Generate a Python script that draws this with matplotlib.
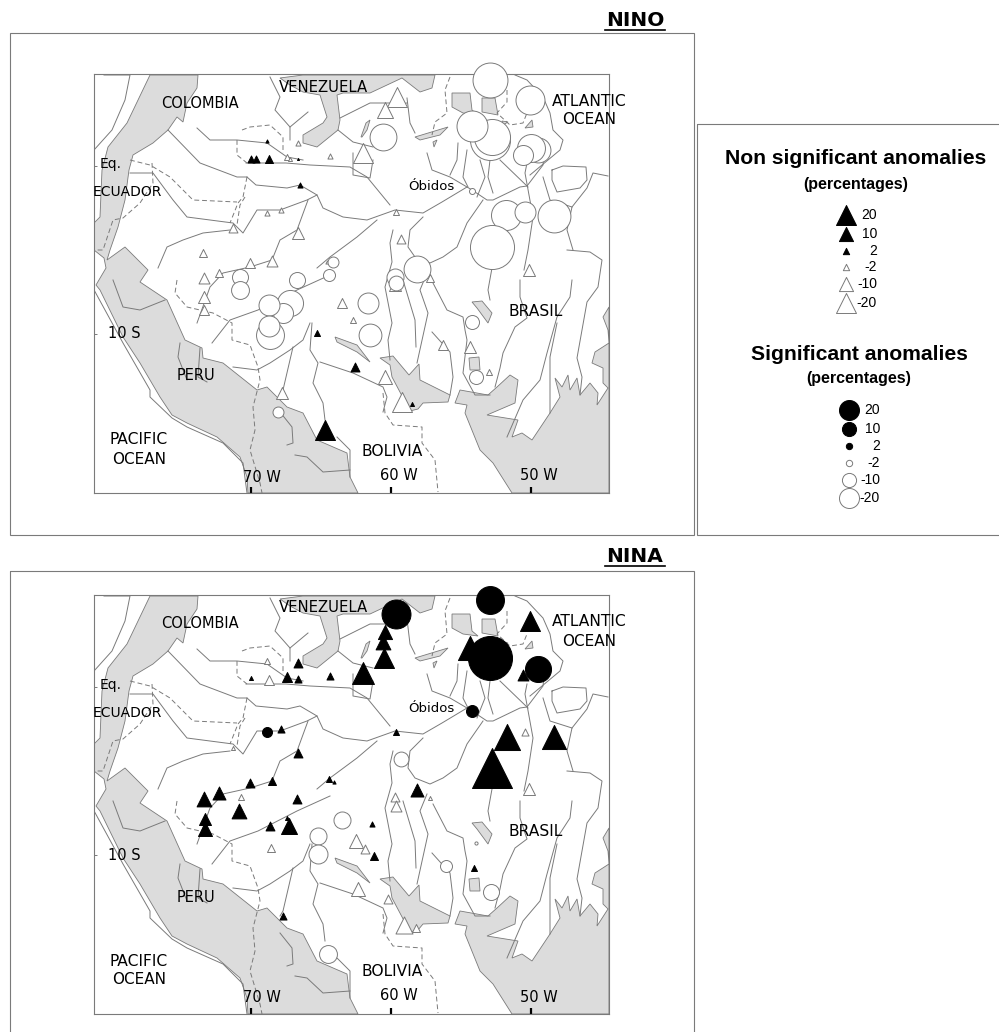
#!/usr/bin/env python3
"""Rainfall anomalies over the Amazon basin for Nino and Nina years, two maps and a key."""

import numpy as np
import matplotlib
matplotlib.use('Agg')
import matplotlib.pyplot as plt
from matplotlib.patches import Polygon, Rectangle

# --- stations: longitude, latitude, anomaly in percent ---
nino_tri_lon = [-70.02, -69.66, -68.69, -68.84, -66.5, -66.64, -65.31, -62.57, -64.71, -58.52,
                -66.66, -67.45, -67.21, -64.36, -61.98, -59.59, -60.43, -68.88, -67.88, -71.26,
                -66.66, -73.45, -70.07, -68.52, -72.26, -73.34, -64.55, -73.34, -73.34, -63.52,
                -62.74, -67.81, -60.43, -56.31, -54.36, -52.98, -59.24, -59.64, -59.31, -50.14,
                -57.21, -59.71]
nino_tri_lat = [0.43, 0.42, 0.40, 1.47, -1.11, 0.43, -9.96, -11.95, -15.71, -14.18,
                1.39, 0.54, 0.43, 0.58, 0.79, 4.13, 3.33, -2.82, -2.62, -3.71,
                -3.97, -5.20, -5.79, -5.65, -6.39, -6.68, -5.70, -7.78, -8.57, -8.14,
                -9.17, -13.53, -12.54, -10.65, -10.76, -12.24, -14.03, -2.72, -4.36, -6.19,
                -6.68, -7.08]
nino_tri_val = [2.5, 2.5, 3.2, 0.5, 1.3, 0.2, 1.8, 4, 20, 0.8,
                -1.3, -1.8, -0.8, -1.3, -20, -20, -12.8, -1.3, -1.3, -4,
                -7.2, -3.2, -5, -6, -3.2, -6, -0.5, -7.2, -5, -5,
                -1.8, -7.2, -9.8, -5, -7.2, -1.8, -20, -1.8, -4, -7.2,
                -3.2, -7.2]

nino_circ_lon = [-52.93, -50.07, -52.93, -52.81, -54.24, -49.5, -50.02, -50.55, -60.55, -54.19,
                 -51.81, -50.43, -48.36, -52.81, -58.16, -59.71, -59.64, -70.79, -64.12, -64.41,
                 -66.74, -70.79, -67.21, -67.71, -68.71, -68.64, -68.69, -61.64, -61.5, -68.05,
                 -54.24, -53.95]
nino_circ_lat = [5.12, 3.93, 1.55, 1.74, 2.40, 0.95, 1.05, 0.65, 1.74, -1.47,
                 -2.92, -2.72, -2.98, -4.80, -6.13, -6.59, -6.96, -6.59, -5.70, -6.49,
                 -6.79, -7.38, -8.17, -8.75, -8.27, -10.06, -9.52, -8.17, -10.06, -14.63,
                 -9.30, -12.58]
nino_circ_val = [-61, -42, -80, -65, -48, -31, -39, -20, -36, -1.8,
                 -45, -22, -54, -97, -36, -14.5, -11, -12.8, -6, -7.2,
                 -12.8, -16, -34, -20, -22, -39, -22, -22, -26, -6,
                 -9.8, -9.8]

nina_tri_lon = [-70.02, -67.41, -66.62, -66.62, -64.36, -61.98, -60.5, -60.59, -60.43, -67.88,
                -66.66, -70.07, -68.52, -72.26, -73.34, -70.86, -64.41, -64.07, -66.74, -67.45,
                -73.32, -73.27, -68.61, -67.29, -61.36, -61.23, -54.07, -67.68, -50.07, -54.36,
                -50.55, -51.74, -48.34, -52.81, -59.64, -58.16,
                -68.84, -68.69, -70.74, -71.26, -50.43, -50.14, -59.71, -59.64, -57.21, -68.56,
                -62.53, -61.84, -62.33, -60.21, -59.04, -58.25]
nina_tri_lat = [0.52, 0.58, 1.45, 0.49, 0.65, 0.83, 1.71, 2.70, 3.29, -2.52,
                -3.91, -5.70, -5.58, -6.29, -6.67, -7.36, -5.49, -5.64, -6.68, -7.80,
                -7.83, -8.44, -8.27, -8.27, -8.18, -10.03, -10.77, -13.63, 3.95, 2.30,
                0.71, -2.96, -2.99, -4.84, -2.66, -6.13,
                1.55, 0.42, -6.53, -3.65, -2.70, -6.07, -6.54, -7.08, -6.63, -9.56,
                -9.15, -9.66, -12.0, -12.62, -14.14, -14.35]
nina_tri_val = [0.8, 5, 4, 2.5, 2.5, 24, 20, 11, 10, 2.5,
                4, 4, 3.2, 8.5, 11, 11, 1.8, 0.5, 4, 0.8,
                7.2, 9.8, 4, 12.8, 1.3, 3.2, 1.8, 2.5, 20, 29,
                6, 34, 29, 80, 1.8, 8.5,
                -1.8, -5, -1.8, -0.8, -2.5, -7.2, -4, -6, -0.8, -3.2,
                -9.8, -4, -9.8, -4, -14.5, -3.2]

nina_circ_lon = [-59.31, -65.19, -65.19, -63.5, -64.48, -56.06, -52.86, -53.96,
                 -68.88, -52.93, -59.64, -52.93, -49.52, -54.19]
nina_circ_lat = [-4.29, -8.85, -9.93, -7.89, -15.87, -10.64, -12.2, -9.29,
                 -2.70, 5.18, 4.33, 1.74, 1.05, -1.41]
nina_circ_val = [-11, -14.5, -18, -14.5, -16, -7.2, -12.8, -0.5,
                 5, 39, 42, 97, 34, 7.2]

legend_values = [20, 10, 2, -2, -10, -20]
legend_labels = ['20', '10', '2', '-2', '-10', '-20']
lon_ticks = [-70, -60, -50]
lat_ticks = [0, -10]

# --- base map in image pixels of the upper map ---
andes = [(150, 75), (198, 75), (197, 88), (187, 103), (183, 122), (177, 117), (168, 130), (153, 143),
         (133, 155), (129, 170), (125, 200), (118, 227), (110, 250), (107, 260), (125, 247), (148, 270),
         (140, 282), (167, 300), (185, 340), (202, 348), (203, 358), (223, 363), (257, 390), (267, 387),
         (287, 407), (303, 413), (317, 440), (347, 453), (350, 477), (358, 493), (248, 493), (247, 477),
         (240, 457), (217, 437), (187, 423), (172, 415), (160, 397), (140, 363), (123, 337), (100, 290),
         (96, 285), (106, 268), (104, 258), (94, 250), (94, 223), (100, 217), (102, 170), (108, 147),
         (127, 123)]
brazil_shield = [(455, 403), (460, 390), (488, 395), (497, 387), (510, 375), (518, 380), (515, 403),
                 (487, 415), (518, 420), (512, 437), (522, 433), (532, 440), (550, 413), (560, 397),
                 (555, 378), (562, 387), (568, 375), (570, 390), (577, 378), (580, 395), (590, 383),
                 (598, 393), (597, 405), (608, 388), (603, 383), (603, 368), (592, 363), (595, 352),
                 (609, 343), (609, 493), (512, 493), (493, 463), (480, 450), (465, 413), (467, 405)]
guiana_west = [(452, 93), (470, 93), (472, 110), (478, 115), (463, 113), (452, 107)]
guiana_east = [(482, 98), (495, 98), (498, 115), (482, 112)]
venezuela = [(280, 78), (303, 75), (435, 75), (432, 88), (420, 92), (402, 78), (370, 93), (343, 93),
             (337, 95), (340, 120), (338, 130), (317, 147), (303, 143), (303, 135), (323, 123),
             (327, 117), (320, 95), (303, 92), (290, 85)]
bolivia = [(380, 358), (393, 356), (409, 375), (419, 364), (420, 380), (450, 395), (448, 402), (423, 403),
           (418, 409), (410, 411), (392, 377), (390, 365)]
small_patches = [
    [(361, 137), (366, 123), (370, 120), (367, 130), (362, 137)],
    [(415, 137), (448, 127), (440, 135), (420, 140)],
    [(433, 142), (437, 140), (434, 147)],
    [(502, 121), (508, 122), (503, 125)],
    [(525, 128), (532, 120), (533, 127)],
    [(335, 337), (357, 345), (370, 362), (357, 352), (337, 342)],
    [(472, 302), (482, 301), (492, 313), (488, 323), (477, 308)],
    [(469, 358), (479, 357), (480, 370), (470, 370)],
    [(609, 307), (603, 317), (608, 330), (609, 343)],
]
rivers = [
    [(247, 177), (256, 185), (287, 188), (300, 185), (317, 195), (323, 208), (343, 217), (367, 220),
     (395, 210), (423, 213), (442, 202), (467, 187), (472, 190), (487, 200), (493, 200), (520, 187),
     (527, 186), (543, 165), (545, 148)],
    [(246, 163), (286, 163), (310, 165), (350, 167), (367, 177), (390, 205)],
    [(168, 130), (200, 163), (237, 177), (247, 177)],
    [(197, 128), (210, 140), (237, 140), (267, 143), (287, 157), (303, 160)],
    [(130, 173), (153, 173), (173, 200), (187, 217), (233, 223), (243, 233), (257, 210), (280, 210),
     (307, 200), (317, 195)],
    [(158, 268), (167, 247), (183, 240), (203, 233), (230, 230)],
    [(308, 200), (297, 230), (280, 240), (272, 260), (250, 267), (223, 273), (210, 287), (197, 323)],
    [(377, 220), (357, 237), (330, 257), (317, 268)],
    [(330, 275), (297, 290), (258, 310), (230, 320), (212, 343)],
    [(310, 323), (303, 340), (290, 350), (270, 363), (257, 370), (233, 367)],
    [(293, 347), (283, 390), (280, 395)],
    [(280, 412), (292, 427), (293, 443), (287, 445)],
    [(295, 455), (307, 457), (323, 472), (350, 470)],
    [(312, 323), (310, 350), (318, 363), (313, 383), (323, 403), (325, 420)],
    [(320, 362), (353, 373), (383, 387), (387, 397), (383, 412)],
    [(337, 437), (350, 450), (350, 477)],
    [(393, 230), (390, 243), (392, 262), (385, 287), (392, 323), (388, 340), (390, 360)],
    [(403, 280), (415, 320), (416, 347)],
    [(423, 217), (410, 230), (408, 247), (415, 257), (430, 263), (443, 257), (457, 247), (467, 223),
     (483, 200)],
    [(427, 273), (420, 290), (428, 313), (417, 363)],
    [(432, 332), (450, 352), (453, 377), (450, 395)],
    [(433, 283), (447, 310), (463, 317), (465, 330), (467, 340), (463, 373), (475, 395), (490, 395)],
    [(492, 268), (488, 290), (490, 300)],
    [(520, 280), (520, 297), (527, 318), (515, 327), (503, 353), (500, 368), (495, 387)],
    [(572, 280), (570, 297), (557, 317), (547, 353), (540, 380), (523, 400), (507, 437)],
    [(557, 323), (550, 357), (550, 413)],
    [(567, 250), (590, 252), (602, 260), (598, 287), (587, 302), (577, 358), (582, 377), (580, 395)],
    [(490, 160), (488, 177), (493, 193)],
    [(480, 160), (485, 177), (477, 197)],
    [(467, 150), (463, 177), (468, 187)],
    [(458, 143), (457, 160), (450, 175)],
    [(427, 153), (432, 170), (450, 177), (467, 187)],
    [(500, 160), (528, 187)],
    [(527, 163), (525, 173), (533, 217), (528, 250), (524, 270)],
    [(543, 177), (550, 200), (572, 207), (567, 230), (573, 250)],
    [(572, 207), (587, 188), (593, 173), (608, 176)],
    [(552, 170), (563, 166), (586, 167), (587, 180), (580, 188), (557, 192), (552, 180), (552, 170)],
    [(515, 75), (527, 80), (543, 97), (550, 113), (553, 130), (563, 140), (560, 150), (530, 175)],
    # outer coast line, a thin white strip off the grey
    [(93, 288), (123, 343), (150, 390), (150, 397), (172, 418), (187, 427), (223, 443), (243, 463),
     (247, 493)],
    [(104, 75), (130, 75), (125, 100), (112, 130), (94, 150)],
    [(270, 77), (280, 97), (275, 110), (290, 127), (290, 140)],
    [(308, 112), (290, 127)],
    [(340, 118), (370, 103), (390, 103)],
    [(338, 130), (353, 142), (373, 147)],
    [(353, 153), (353, 175), (370, 178), (373, 160)],
    [(407, 98), (410, 123), (415, 133)],
    [(407, 103), (392, 105)],
    # rivers inside the Andes
    [(180, 343), (178, 357), (187, 380)],
    [(200, 348), (198, 377), (207, 382)],
    [(113, 280), (123, 307), (140, 310), (165, 300)],
]
borders = [
    [(450, 77), (445, 90), (447, 113), (435, 122), (432, 135)],
    [(507, 90), (507, 102), (497, 113), (510, 125), (523, 123), (527, 113)],
    [(247, 177), (243, 197), (238, 203), (230, 223)],
    [(245, 197), (240, 205), (237, 225)],
    [(242, 130), (250, 127), (270, 125), (283, 137), (283, 153)],
    [(237, 140), (237, 155), (247, 163)],
    [(130, 160), (150, 165), (170, 177), (193, 200), (237, 202)],
    [(152, 163), (153, 183), (140, 203), (123, 218), (113, 220), (103, 250), (95, 250)],
    [(177, 280), (175, 293), (187, 307), (213, 313), (232, 323), (232, 340), (250, 345), (258, 367),
     (260, 380), (253, 407), (255, 430), (250, 450), (260, 483), (262, 493)],
    [(383, 393), (385, 413), (393, 425), (422, 427), (422, 443), (435, 460), (438, 492)],
]

# --- place names: image pixel centre in the upper map, font size ---
map_labels = [('COLOMBIA', 200, 103, 10.5), ('VENEZUELA', 323, 87, 10.7), ('Eq.', 111, 164, 10),
              ('ECUADOR', 127, 192, 10), ('Óbidos', 431, 187, 9.5), ('ATLANTIC', 589, 101, 11.2),
              ('OCEAN', 589, 120, 11), ('BRASIL', 536, 311, 11.2), ('PERU', 196, 376, 10.5),
              ('PACIFIC', 139, 440, 11.2), ('OCEAN', 139, 459, 11), ('BOLIVIA', 392, 451, 11.2),
              ('10 S', 124, 334, 10.5), ('70 W', 262, 477, 10.5), ('60 W', 399, 475, 10.5),
              ('50 W', 539, 476, 10.5)]

GREY_FILL = '#dcdcdc'
GREY_LINE = '#7a7a7a'
FIG_W, FIG_H = 999, 1032
MAP_LEFT, MAP_RIGHT, MAP_TOP, MAP_BOTTOM = 94, 609, 74, 493


def to_lonlat(points):
    """Image pixels of the upper map to degrees (14 px per lon, 16.8 px per lat)."""
    pts = np.asarray(points, dtype=float)
    return np.column_stack([-70 + (pts[:, 0] - 251) / 14, (166 - pts[:, 1]) / 16.8])


def marker_area(values):
    # symbol area follows the anomaly, 20 % gives a 20 px wide symbol
    diameter_px = np.sqrt(20 * np.abs(np.asarray(values, dtype=float)))
    return (diameter_px * 0.72) ** 2


def draw_symbols(ax, lon, lat, val, marker):
    # one by one so that the drawing order of overlapping symbols stays as listed
    for x, y, v in zip(lon, lat, val):
        face = 'black' if v > 0 else 'white'
        edge = 'black' if v > 0 else GREY_LINE
        ax.scatter([x], [y], s=marker_area([v]), marker=marker, facecolor=face, edgecolor=edge,
                   linewidth=0.7, clip_on=False, zorder=5)


def draw_map(fig, y_shift, tri, circ):
    ax = fig.add_axes([MAP_LEFT / FIG_W, 1 - (MAP_BOTTOM + y_shift) / FIG_H,
                       (MAP_RIGHT - MAP_LEFT) / FIG_W, (MAP_BOTTOM - MAP_TOP) / FIG_H])
    corners = to_lonlat([(MAP_LEFT, MAP_BOTTOM), (MAP_RIGHT, MAP_TOP)])
    ax.set_xlim(corners[0, 0], corners[1, 0])
    ax.set_ylim(corners[0, 1], corners[1, 1])

    for shape in [andes, brazil_shield, guiana_west, guiana_east, venezuela, bolivia] + small_patches:
        ax.add_patch(Polygon(to_lonlat(shape), closed=True, facecolor=GREY_FILL,
                             edgecolor=GREY_LINE, linewidth=0.6, zorder=1))
    for line in rivers:
        xy = to_lonlat(line)
        ax.plot(xy[:, 0], xy[:, 1], color=GREY_LINE, linewidth=0.7, zorder=2)
    for line in borders:
        xy = to_lonlat(line)
        ax.plot(xy[:, 0], xy[:, 1], color=GREY_LINE, linewidth=0.7, linestyle=(0, (5, 3)), zorder=2)

    # triangles first, the filled circles sit on top of them
    draw_symbols(ax, *tri, '^')
    draw_symbols(ax, *circ, 'o')

    for name, px, py, size in map_labels:
        pos = to_lonlat([(px, py)])[0]
        ax.text(pos[0], pos[1], name, ha='center', va='center', fontsize=size, color='black', zorder=6)

    ax.set_xticks(lon_ticks)
    ax.set_yticks(lat_ticks)
    ax.set_xticklabels([])
    ax.set_yticklabels([])
    ax.tick_params(axis='x', direction='in', length=4, width=1.6, color='black')
    ax.tick_params(axis='y', direction='in', length=2, width=0.7, color=GREY_LINE)
    for spine in ax.spines.values():
        spine.set_color(GREY_LINE)
        spine.set_linewidth(0.8)
    return ax


def draw_key(bg):
    """Outer frames, panel titles and the two size keys, in pixels."""
    bg.add_patch(Rectangle((10, 33), 684, 502, fill=False, edgecolor=GREY_LINE, linewidth=0.8))
    bg.add_patch(Rectangle((10, 571), 684, 480, fill=False, edgecolor=GREY_LINE, linewidth=0.8))
    bg.add_patch(Rectangle((697, 124), 320, 411, fill=False, edgecolor=GREY_LINE, linewidth=0.8))

    for title, y in [('NINO', 20), ('NINA', 556)]:
        bg.text(635, y, title, ha='center', va='center', fontsize=14.5, fontweight='bold')
        bg.plot([605, 665], [y + 10, y + 10], color='black', linewidth=1.2)

    head = dict(ha='center', va='center', family='Liberation Sans', fontweight='bold')
    bg.text(856, 159, 'Non significant anomalies', fontsize=15.2, **head)
    bg.text(856, 184, '(percentages)', fontsize=11.5, **head)
    bg.text(859, 355, 'Significant anomalies', fontsize=15.2, **head)
    bg.text(859, 379, '(percentages)', fontsize=11.5, **head)

    tri_y = [215, 234, 251, 267, 284, 303]
    circ_y = [410, 429, 446, 463, 480, 498]
    for v, name, ty, cy in zip(legend_values, legend_labels, tri_y, circ_y):
        face = 'black' if v > 0 else 'white'
        edge = 'black' if v > 0 else GREY_LINE
        bg.scatter([846], [ty], s=marker_area([v]), marker='^', facecolor=face, edgecolor=edge, linewidth=0.7)
        bg.scatter([849], [cy], s=marker_area([v]), marker='o', facecolor=face, edgecolor=edge, linewidth=0.7)
        bg.text(877, ty, name, ha='right', va='center', fontsize=10, family='Liberation Sans')
        bg.text(880, cy, name, ha='right', va='center', fontsize=10, family='Liberation Sans')


def main():
    fig = plt.figure(figsize=(FIG_W / 100, FIG_H / 100), dpi=100)

    bg = fig.add_axes([0, 0, 1, 1])
    bg.set_xlim(0, FIG_W)
    bg.set_ylim(FIG_H, 0)
    bg.axis('off')
    draw_key(bg)

    draw_map(fig, 0, (nino_tri_lon, nino_tri_lat, nino_tri_val),
             (nino_circ_lon, nino_circ_lat, nino_circ_val))
    draw_map(fig, 521, (nina_tri_lon, nina_tri_lat, nina_tri_val),
             (nina_circ_lon, nina_circ_lat, nina_circ_val))

    fig.savefig('out.png', dpi=100)
    plt.close(fig)


if __name__ == '__main__':
    main()
